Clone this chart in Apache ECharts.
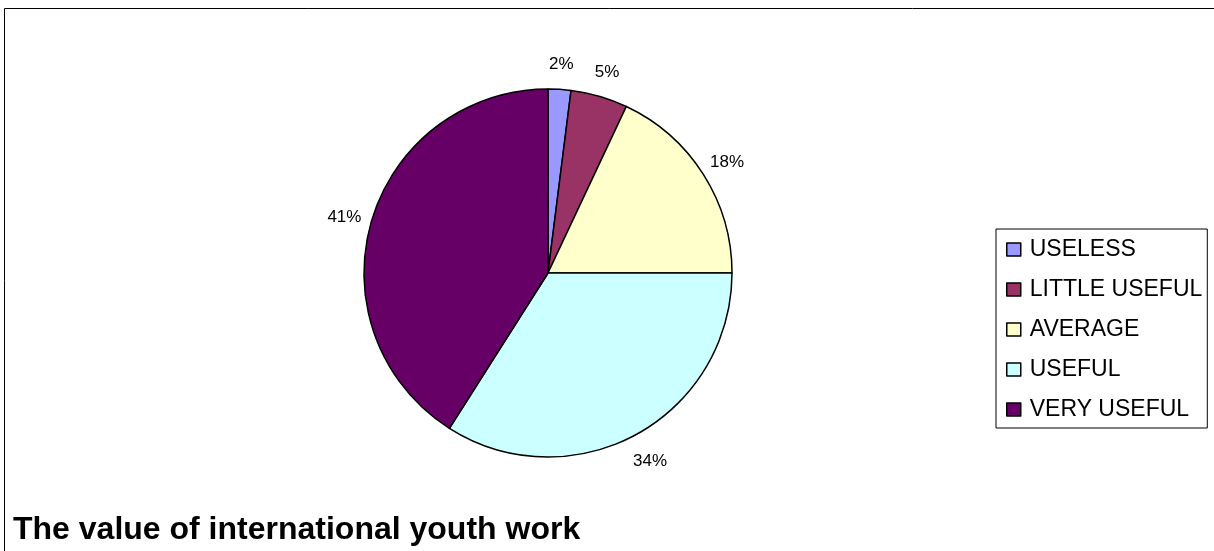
<!DOCTYPE html>
<html>
<head>
<meta charset="utf-8">
<script src="https://cdn.jsdelivr.net/npm/echarts@6/dist/echarts.min.js"></script>
<style>
  html, body { margin: 0; padding: 0; background: #fff; }
  #chart { width: 1214px; height: 551px; }
</style>
</head>
<body>
<div id="chart"></div>
<script>
const categories = ['USELESS', 'LITTLE USEFUL', 'AVERAGE', 'USEFUL', 'VERY USEFUL'];
const values = [2, 5, 18, 34, 41];
const colors = ['#9999FF', '#993366', '#FFFFCC', '#CCFFFF', '#660066'];
const titleText = 'The value of international youth work';

const pieData = categories.map((c, i) => ({ name: c, value: values[i] }));

const chart = echarts.init(document.getElementById('chart'), null, { renderer: 'canvas' });
chart.setOption({
  animation: false,
  backgroundColor: '#ffffff',
  color: colors,
  graphic: [{
    type: 'rect',
    shape: { x: 4.5, y: 8.5, width: 1400, height: 800 },
    style: { fill: 'none', stroke: '#000', lineWidth: 1 },
    silent: true,
    z: 0
  }],
  title: {
    text: titleText,
    left: 13,
    top: 514,
    padding: 0,
    textStyle: { fontFamily: 'Liberation Sans', fontWeight: 'bold', fontSize: 32, color: '#000' }
  },
  legend: {
    orient: 'vertical',
    left: 996,
    top: 229,
    padding: [9, 5, 7, 10],
    borderColor: '#000',
    borderWidth: 1,
    itemWidth: 14,
    itemHeight: 13,
    itemGap: 17,
    icon: 'rect',
    data: categories,
    itemStyle: { borderColor: '#000', borderWidth: 1.5 },
    textStyle: { fontFamily: 'Liberation Sans', fontSize: 23, lineHeight: 23, color: '#000', padding: [0, 0, 0, 4] }
  },
  series: [{
    type: 'pie',
    center: [548, 273],
    radius: 184,
    startAngle: 90,
    clockwise: true,
    avoidLabelOverlap: false,
    itemStyle: { borderColor: '#000', borderWidth: 1.5 },
    label: { show: false },
    labelLine: { show: false },
    emphasis: { disabled: true },
    data: pieData
  }, {
    type: 'pie',
    center: [548, 273],
    radius: [184, 234],
    startAngle: 90,
    clockwise: true,
    silent: true,
    avoidLabelOverlap: false,
    itemStyle: { color: 'rgba(0,0,0,0)', borderWidth: 0 },
    label: {
      show: true,
      position: 'inside',
      offset: [0, 3],
      formatter: '{d}%',
      fontFamily: 'Liberation Sans',
      fontSize: 17,
      color: '#000',
      textBorderWidth: 0
    },
    labelLine: { show: false },
    emphasis: { disabled: true },
    data: pieData
  }]
});
</script>
</body>
</html>
